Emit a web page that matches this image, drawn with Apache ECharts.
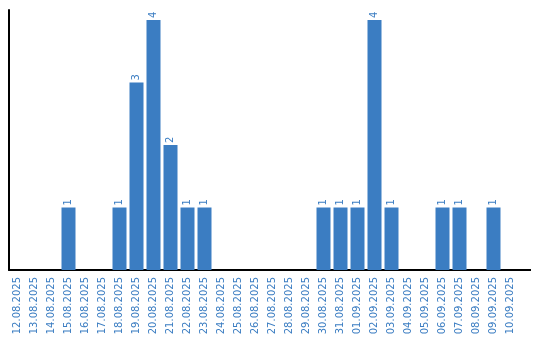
<!DOCTYPE html>
<html><head><meta charset="utf-8">
<script src="https://cdn.jsdelivr.net/npm/echarts@6/dist/echarts.min.js"></script>
<style>html,body{margin:0;padding:0;background:#fff}#c{width:540px;height:340px}</style>
</head><body><div id="c"></div>
<script>
var categories = ["12.08.2025","13.08.2025","14.08.2025","15.08.2025","16.08.2025","17.08.2025","18.08.2025","19.08.2025","20.08.2025","21.08.2025","22.08.2025","23.08.2025","24.08.2025","25.08.2025","26.08.2025","27.08.2025","28.08.2025","29.08.2025","30.08.2025","31.08.2025","01.09.2025","02.09.2025","03.09.2025","04.09.2025","05.09.2025","06.09.2025","07.09.2025","08.09.2025","09.09.2025","10.09.2025"];
var values = [0,0,0,1,0,0,1,3,4,2,1,1,0,0,0,0,0,0,1,1,1,4,1,0,0,1,1,0,1,0];
var blue = '#3b7dc2';
var chart = echarts.init(document.getElementById('c'));
chart.setOption({
  animation: false,
  grid: {left: 9, right: 21, top: 10, bottom: 70, containLabel: false},
  xAxis: {
    type: 'category', data: categories,
    axisLine: {lineStyle: {color: '#000', width: 2}},
    axisTick: {show: false},
    axisLabel: {rotate: 90, color: blue, fontFamily: 'DejaVu Sans', fontSize: 10, margin: 7, interval: 0}
  },
  yAxis: {
    type: 'value', min: 0, max: 4.16,
    axisLine: {show: true, lineStyle: {color: '#000', width: 2}},
    axisTick: {show: false}, axisLabel: {show: false}, splitLine: {show: false}
  },
  graphic: [{type: 'line', shape: {x1: 519, y1: 270, x2: 531, y2: 270}, style: {stroke: '#000', lineWidth: 2}}],
  series: [{
    type: 'bar', data: values.map(function(v){return v === 0 ? null : v;}), barWidth: 14,
    itemStyle: {color: blue},
    label: {show: true, position: 'top', rotate: 90, align: 'left', verticalAlign: 'middle', distance: 2,
      color: blue, fontFamily: 'DejaVu Sans', fontSize: 10}
  }]
});
</script></body></html>
